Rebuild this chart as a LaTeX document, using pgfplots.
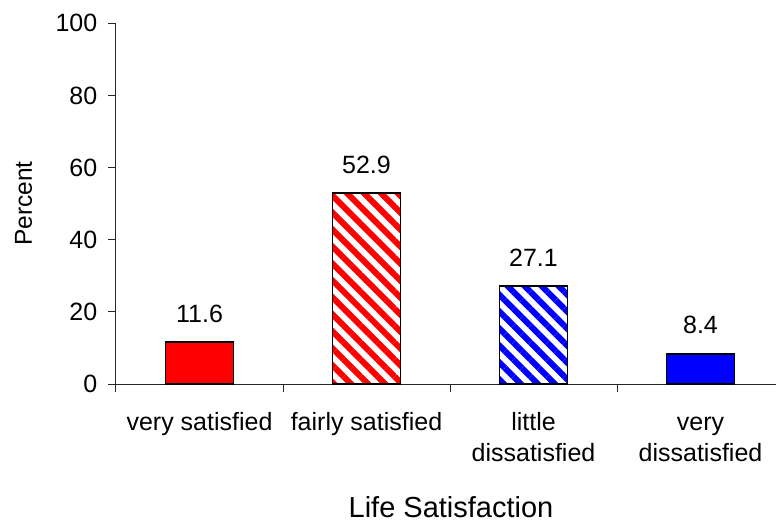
\documentclass[border=0pt]{standalone}
\usepackage{fontspec}
\setmainfont{Liberation Sans}
\usepackage{pgfplots}
\pgfplotsset{compat=1.18}
\usetikzlibrary{patterns.meta}
\begin{document}
\begin{tikzpicture}
\begin{axis}[
  name=ax,
  scale only axis,
  width=660pt, height=360.7pt,
  xmin=-0.5, xmax=3.452,
  ymin=0, ymax=100,
  axis x line*=bottom, axis y line*=left,
  axis line style={-, line width=1pt, black!85},
  tick style={line width=1pt, black!85},
  tick align=outside,
  major tick length=7.5pt,
  minor tick length=7.5pt,
  ytick={0,20,40,60,80,100},
  xtick={0,1,2,3},
  major x tick style={draw=none},
  minor xtick={-0.5,0.5,1.5,2.5},
  xticklabels={\rule{0pt}{18pt}very satisfied, \rule{0pt}{18pt}fairly satisfied, {\rule{0pt}{18pt}little\\dissatisfied}, {\rule{0pt}{18pt}very\\dissatisfied}},
  /pgf/number format/assume math mode=true,
  ticklabel style={font=\fontsize{25}{31}\selectfont},
  xticklabel style={align=center, anchor=north, inner sep=0pt, yshift=-21pt},
  yticklabel style={anchor=east, inner sep=0pt, xshift=-11pt},
  xlabel={Life Satisfaction},
  ylabel={Percent},
  xlabel style={font=\fontsize{29}{34}\selectfont, at={(axis description cs:0.5076,-0.371)}, anchor=base},
  ylabel style={font=\fontsize{24.5}{29}\selectfont, at={(axis description cs:-0.1273,0.5)}, anchor=base, rotate=0},
  clip=false,
  nodes near coords,
  nodes near coords style={font=\fontsize{25}{29}\selectfont, anchor=base, inner sep=0pt, yshift=20pt, /pgf/number format/fixed, /pgf/number format/precision=1, /pgf/number format/fixed zerofill},
]
\addplot[ybar, bar width=68pt, draw=black, line width=1.6pt, fill=red] coordinates {(0,11.6)};
\addplot[ybar, bar width=68pt, draw=black, line width=1.6pt, pattern={Lines[angle=-45, distance=12pt, line width=6pt]}, pattern color=red] coordinates {(1,52.9)};
\addplot[ybar, bar width=68pt, draw=black, line width=1.6pt, pattern={Lines[angle=-45, distance=12pt, line width=6pt]}, pattern color=blue] coordinates {(2,27.1)};
\addplot[ybar, bar width=68pt, draw=black, line width=1.6pt, fill=blue] coordinates {(3,8.4)};
\end{axis}
\pgfresetboundingbox
\useasboundingbox (ax.south west) ++(-116pt,-141pt) rectangle ++(776pt,525pt);
\end{tikzpicture}
\end{document}
